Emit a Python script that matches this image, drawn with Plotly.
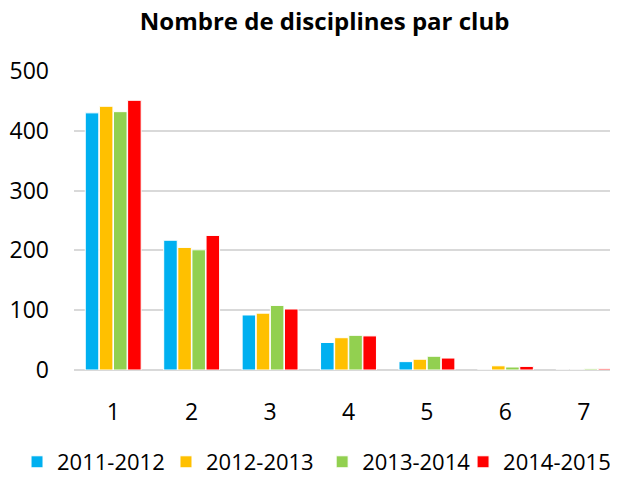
import plotly.graph_objects as go

categories = ["1", "2", "3", "4", "5", "6", "7"]
series_names = ["2011-2012", "2012-2013", "2013-2014", "2014-2015"]
s2011 = [430, 217, 92, 46, 14, 0, 0]
s2012 = [441, 205, 95, 54, 18, 7, 0]
s2013 = [432, 201, 108, 58, 23, 5, 2]
s2014 = [451, 225, 102, 57, 20, 6, 2]
colors = ["#00B0F0", "#FFC000", "#92D050", "#FF0000"]
legend_ids = ["legend", "legend2", "legend3", "legend4"]
legend_x = [0.0148, 0.259, 0.515, 0.746]

fig = go.Figure()
for name, vals, col, lid in zip(series_names, [s2011, s2012, s2013, s2014], colors, legend_ids):
    fig.add_trace(go.Bar(x=categories, y=vals, name=name, marker_color=col,
                         marker_line_color="white", marker_line_width=1, legend=lid))

legend_style = dict(orientation="h", xref="container", yref="container",
                    xanchor="left", y=0.032, yanchor="middle",
                    font=dict(size=22), itemwidth=30, bgcolor="rgba(0,0,0,0)")

# page body has an 8px margin, so the figure is sized 610x469
fig.update_layout(
    width=610, height=469,
    paper_bgcolor="white", plot_bgcolor="white",
    font=dict(family="Open Sans, Liberation Sans, sans-serif", color="black", size=20),
    title=dict(text="<b>Nombre de disciplines par club</b>", x=0.519, xanchor="center",
               y=0.97, yanchor="middle", font=dict(size=24)),
    margin=dict(l=65.5, r=0, t=63, b=107, autoexpand=False),
    barmode="group", bargap=0.28, bargroupgap=0.04,
    showlegend=True,
    xaxis=dict(range=[-0.5, 6.436], showgrid=False, showline=False, ticks="",
               ticklabelstandoff=26, tickfont=dict(size=23)),
    yaxis=dict(range=[0, 500], dtick=100, showgrid=True, gridcolor="#D9D9D9", gridwidth=1.5,
               zeroline=True, zerolinecolor="#D9D9D9", zerolinewidth=2,
               showline=False, ticks="", ticklabelstandoff=24, tickfont=dict(size=23)),
)
fig.update_layout({lid: dict(legend_style, x=lx) for lid, lx in zip(legend_ids, legend_x)})

fig.write_html("out.html")
